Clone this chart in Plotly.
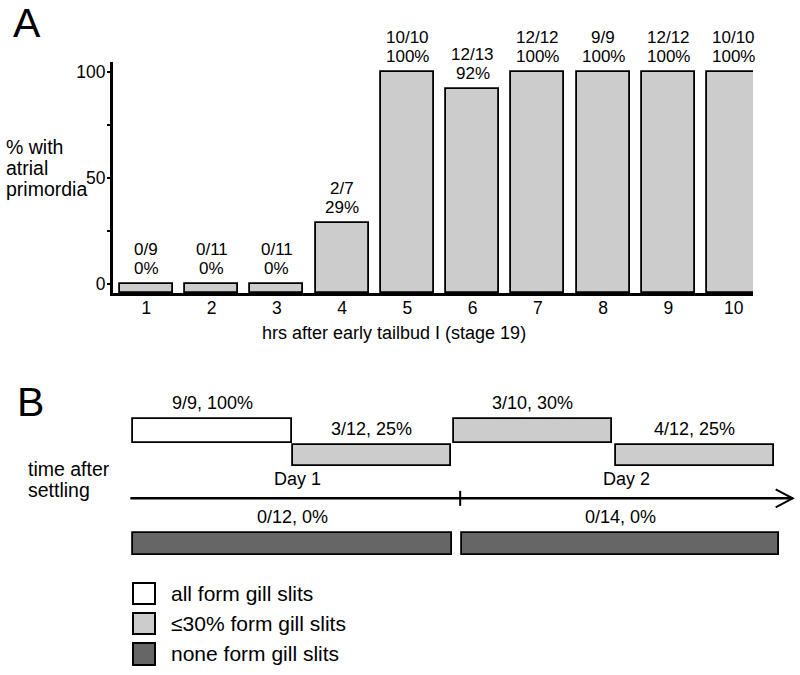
import plotly.graph_objects as go

# ---------------- Data: panel A ----------------
HOURS = [1, 2, 3, 4, 5, 6, 7, 8, 9, 10]
PCT = [0, 0, 0, 29, 100, 92, 100, 100, 100, 100]
FRACTIONS = ["0/9", "0/11", "0/11", "2/7", "10/10", "12/13", "12/12", "9/9", "12/12", "10/10"]
Y_TICKS = [0, 25, 50, 75, 100]
Y_TICK_TEXT = ["0", "", "50", "", "100"]

# ---------------- Data: panel B (hours after settling) ----------------
SEG_LABELS = ["9/9, 100%", "3/12, 25%", "3/10, 30%", "4/12, 25%", "0/12, 0%", "0/14, 0%"]
SEG_START_H = [0, 12.0, 24.1, 36.3, 0, 24.7]
SEG_END_H = [11.95, 23.9, 36.0, 48.2, 24.0, 48.6]
SEG_CLASS = ["all", "low", "low", "low", "none", "none"]
SEG_ROW = ["top", "mid", "top", "mid", "bottom", "bottom"]
DAY_LABELS = ["Day 1", "Day 2"]
DAY_LABEL_H = [12.4, 37.1]
TIMELINE_H = [-0.2, 49.6]
DAY_BOUNDARY_H = 24.6
LEGEND_TEXT = ["all form gill slits", "\u226430% form gill slits", "none form gill slits"]
LEGEND_CLASS = ["all", "low", "none"]

# ---------------- Style ----------------
FONT = "Liberation Sans"
W, H = 800, 675
LIGHT = "#cccccc"
DARK = "#666666"
FILL = {"all": "#ffffff", "low": LIGHT, "none": DARK}
ROW_LEVEL = {"top": 0.0, "mid": 1.0, "bottom": 4.6}
ROW_THICK = {"top": 0.98, "mid": 0.86, "bottom": 0.9}
TIMELINE_LEVEL = 2.75
BAR_BASE = -4.245
Y_TOP = 104.72


def px_x(px):
    return px / W


def px_y(px):
    return 1 - px / H


def text_at(txt, x_px, baseline_px, size, xanchor="left"):
    return dict(text=txt, x=px_x(x_px), y=px_y(baseline_px + 0.212 * size + 1),
                xref="paper", yref="paper", xanchor=xanchor, yanchor="bottom",
                showarrow=False, font=dict(size=size, family=FONT, color="black"))


fig = go.Figure()

# Panel A bars
fig.add_trace(go.Bar(
    x=HOURS, y=[p - BAR_BASE for p in PCT], base=BAR_BASE, width=0.81,
    marker=dict(color=LIGHT, line=dict(color="black", width=1.8)),
    cliponaxis=False, showlegend=False, xaxis="x", yaxis="y", hoverinfo="skip",
))

# Panel B bars, one trace per class
for cls in ["all", "low", "none"]:
    idx = [i for i, c in enumerate(SEG_CLASS) if c == cls]
    fig.add_trace(go.Bar(
        orientation="h",
        y=[ROW_LEVEL[SEG_ROW[i]] for i in idx],
        x=[SEG_END_H[i] - SEG_START_H[i] for i in idx],
        base=[SEG_START_H[i] for i in idx],
        width=[ROW_THICK[SEG_ROW[i]] for i in idx],
        marker=dict(color=FILL[cls], line=dict(color="black", width=1.8)),
        showlegend=False, xaxis="x2", yaxis="y2", hoverinfo="skip",
    ))

annotations = []
# labels above panel A bars
for h, p, fr in zip(HOURS, PCT, FRACTIONS):
    annotations.append(dict(x=h, y=p, xref="x", yref="y", text=f"{p}%", showarrow=False,
                            yanchor="bottom", yshift=4, font=dict(size=17, family=FONT, color="black")))
    annotations.append(dict(x=h, y=p, xref="x", yref="y", text=fr, showarrow=False,
                            yanchor="bottom", yshift=23, font=dict(size=17, family=FONT, color="black")))

# labels above panel B segments
for lab, s, e, row in zip(SEG_LABELS, SEG_START_H, SEG_END_H, SEG_ROW):
    annotations.append(dict(x=(s + e) / 2, y=ROW_LEVEL[row] - ROW_THICK[row] / 2, xref="x2", yref="y2",
                            text=lab, showarrow=False, yanchor="bottom", yshift=4,
                            font=dict(size=18, family=FONT, color="black")))
for lab, h in zip(DAY_LABELS, DAY_LABEL_H):
    annotations.append(dict(x=h, y=TIMELINE_LEVEL, xref="x2", yref="y2", text=lab, showarrow=False,
                            yanchor="bottom", yshift=7, font=dict(size=18, family=FONT, color="black")))

# static texts
annotations += [
    text_at("A", 11, 38, 41),
    text_at("B", 15, 417, 41),
    text_at("% with", 4, 155, 19.5),
    text_at("atrial", 4, 176, 19.5),
    text_at("primordia", 4, 197, 19.5),
    text_at("hrs after early tailbud I (stage 19)", 394, 340, 18, xanchor="center"),
    text_at("time after", 26, 477, 19.5),
    text_at("settling", 26, 498, 19.5),
]
legend_rows = [(583, 604, 602), (613, 634, 632), (643, 665, 662)]
shapes = []
for (t, b, base), txt, cls in zip(legend_rows, LEGEND_TEXT, LEGEND_CLASS):
    annotations.append(text_at(txt, 169, base, 21))
    shapes.append(dict(type="rect", xref="paper", yref="paper", x0=px_x(133), x1=px_x(155),
                       y0=px_y(b), y1=px_y(t), fillcolor=FILL[cls], line=dict(color="black", width=2)))

# timeline with tick and open arrowhead
shapes += [
    dict(type="line", xref="x2", yref="y2", x0=TIMELINE_H[0], x1=TIMELINE_H[1],
         y0=TIMELINE_LEVEL, y1=TIMELINE_LEVEL, line=dict(color="black", width=2.5)),
    dict(type="line", xref="x2", yref="y2", x0=DAY_BOUNDARY_H, x1=DAY_BOUNDARY_H,
         ysizemode="pixel", yanchor=TIMELINE_LEVEL, y0=-7.5, y1=7.5, line=dict(color="black", width=2)),
    dict(type="path", xref="x2", yref="y2", xsizemode="pixel", ysizemode="pixel",
         xanchor=TIMELINE_H[1], yanchor=TIMELINE_LEVEL, path="M-17,9 L0,0 L-17,-9",
         line=dict(color="black", width=2)),
]

fig.update_layout(
    width=W, height=H, margin=dict(l=0, r=0, t=0, b=0),
    paper_bgcolor="white", plot_bgcolor="rgba(0,0,0,0)",
    barmode="overlay", bargap=0, showlegend=False,
    font=dict(family=FONT, color="black"),
    xaxis=dict(domain=[px_x(113), px_x(753)], range=[0.489, 10.296], tickvals=HOURS,
               ticks="", showline=True, linewidth=3, linecolor="black", showgrid=False,
               ticklabelstandoff=-3,
               zeroline=False, tickfont=dict(size=17.5, family=FONT, color="black"), fixedrange=True),
    yaxis=dict(domain=[px_y(293), px_y(62)], range=[BAR_BASE, Y_TOP], tickvals=Y_TICKS,
               ticktext=Y_TICK_TEXT, ticks="outside", ticklen=3, tickwidth=1.5, tickcolor="black",
               ticklabelstandoff=-2,
               showline=True, linewidth=3, linecolor="black", showgrid=False, zeroline=False,
               tickfont=dict(size=17.5, family=FONT, color="black"), fixedrange=True),
    xaxis2=dict(domain=[0, 1], range=[-10.0, 50.15], visible=False, anchor="y2", fixedrange=True),
    yaxis2=dict(domain=[0, px_y(395)], range=[9.959, -1.469], visible=False, anchor="x2", fixedrange=True),
    annotations=annotations, shapes=shapes,
)

fig.write_html("out.html", config={"displayModeBar": False},
               post_script="document.body.style.margin='0px';")
